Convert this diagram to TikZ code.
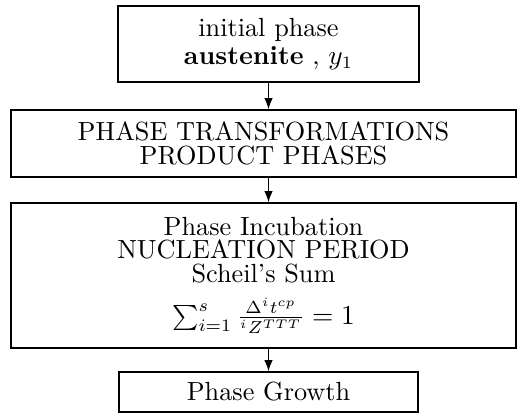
\documentclass[tikz,border=0pt]{standalone}
\usetikzlibrary{arrows.meta}
\begin{document}
\begin{tikzpicture}[x=0.4pt,y=-0.4pt,
  box/.style={draw,line width=0.55pt,inner sep=0pt,align=center,font=\fontsize{10.5}{11}\selectfont},
  conn/.style={line width=0.55pt,-{Latex[length=4.5pt,width=3.4pt]}}]
\useasboundingbox (0,0) rectangle (517,414);
\node[box,minimum width=120.4pt,minimum height=30.4pt] (b1) at (268.5,44)
  {initial phase\\ \textbf{austenite} , $y_1$};
\node[box,minimum width=202pt,minimum height=26.8pt,font=\fontsize{10.5}{9.8}\selectfont] (b2) at (263.5,143.5)
  {PHASE TRANSFORMATIONS\\ PRODUCT PHASES};
\node[box,minimum width=202pt,minimum height=58pt,font=\fontsize{10.5}{9.4}\selectfont] (b3) at (263.5,275.5)
  {Phase Incubation\\ NUCLEATION PERIOD\\ Scheil's Sum\\[5pt] $\sum_{i=1}^{s}\frac{\Delta^{i}t^{cp}}{{}^{i}Z^{TTT}}=1$};
\node[box,minimum width=119.6pt,minimum height=16pt] (b4) at (268.5,392) {Phase Growth};
\draw[conn] (b1.south) -- (b2.north -| b1.south);
\draw[conn] (b2.south -| b1.south) -- (b3.north -| b1.south);
\draw[conn] (b3.south -| b4.north) -- (b4.north);
\end{tikzpicture}
\end{document}
